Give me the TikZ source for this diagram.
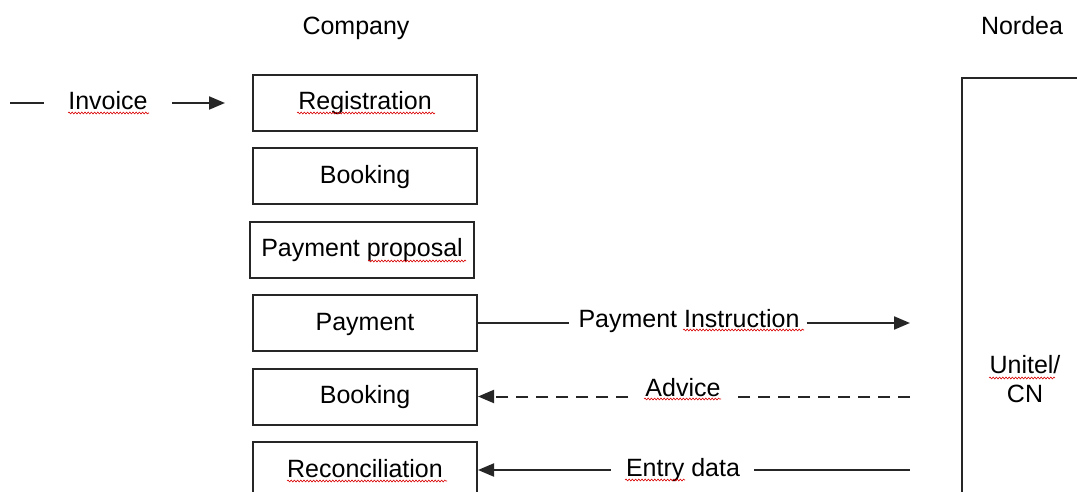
\documentclass[tikz,border=0pt]{standalone}
\usepackage{fontspec}
\setmainfont{Liberation Sans}
\usetikzlibrary{arrows.meta,decorations.pathmorphing}
\begin{document}
\begin{tikzpicture}[x=1pt,y=-1pt,
 every node/.style={font=\fontsize{25}{29}\selectfont, text=black},
 stepbox/.style={draw=black!85, line width=2pt, minimum width=224pt, minimum height=56pt, inner sep=0pt, text height=18pt, text depth=4pt},
 lbl/.style={anchor=base, inner sep=0pt},
 conn/.style={draw=black!85, line width=2pt},
 tip/.style={-{Triangle[length=16pt,width=13pt]}},
 dashline/.style={dash pattern=on 12pt off 8pt},
 squig/.style={draw=red!85!black, line width=0.6pt, decorate, decoration={snake, amplitude=0.9pt, segment length=3.2pt}}
]
\useasboundingbox (0,0) rectangle (1077,492);

% headings
\node[lbl] (company) at (356,35) {Company};
\node[lbl] (nordeatitle) at (1022,35) {Nordea};

% company boxes
\node[stepbox] (reg)   at (365,103)   {Registration};
\node[stepbox] (book1) at (365,176)   {Booking};
\node[stepbox] (prop)  at (362,249.5) {Payment proposal};
\node[stepbox] (pay)   at (365,323)   {Payment};
\node[stepbox] (book2) at (365,396.5) {Booking};
\node[stepbox] (rec)   at (365,470)   {Reconciliation};

% Nordea box
\node[draw=black!85, line width=2pt, minimum width=150pt, minimum height=440pt, anchor=north west, inner sep=0pt] (nordea) at (961,77) {};
\node[lbl] (unitel) at (1025,373) {Unitel/};
\node[lbl] (cn) at (1025,402) {CN};

% labels
\node[lbl] (inv) at (108,110) {Invoice};
\node[lbl] (pi)  at (689,327) {Payment Instruction};
\node[lbl] (adv) at (683,396) {Advice};
\node[lbl] (ent) at (683,476) {Entry data};

% free ends
\coordinate (invStart) at (10,103);
\coordinate (piEnd)  at (910,323);
\coordinate (advEnd) at (910,396.5);
\coordinate (entEnd) at (910,470);

% Invoice
\draw[conn] (invStart) -- ([xshift=-24pt]inv.west |- invStart);
\draw[conn,tip,shorten >=27pt] ([xshift=24pt]inv.east |- invStart) -- (reg.west);

% Payment instruction
\draw[conn] (pay.east) -- ([xshift=-9pt]pi.west |- pay.east);
\draw[conn,tip] ([xshift=7pt]pi.east |- pay.east) -- (piEnd);

% Advice
\draw[conn,dashline] (advEnd) -- ([xshift=15pt]adv.east |- advEnd);
\draw[conn,dashline,tip] ([xshift=-17pt]adv.west |- book2.east) -- (book2.east);

% Entry data
\draw[conn] (entEnd) -- ([xshift=14pt]ent.east |- entEnd);
\draw[conn,tip] ([xshift=-15pt]ent.west |- rec.east) -- (rec.east);

% spell-check squiggles
\draw[squig] (68,113) -- (149,113);
\draw[squig] (297,113) -- (435,113);
\draw[squig] (368,261) -- (466,261);
\draw[squig] (683,330) -- (804,330);
\draw[squig] (644,399) -- (721,399);
\draw[squig] (287,481) -- (447,481);
\draw[squig] (625,480) -- (685,480);
\draw[squig] (989,378) -- (1055,378);
\end{tikzpicture}
\end{document}
